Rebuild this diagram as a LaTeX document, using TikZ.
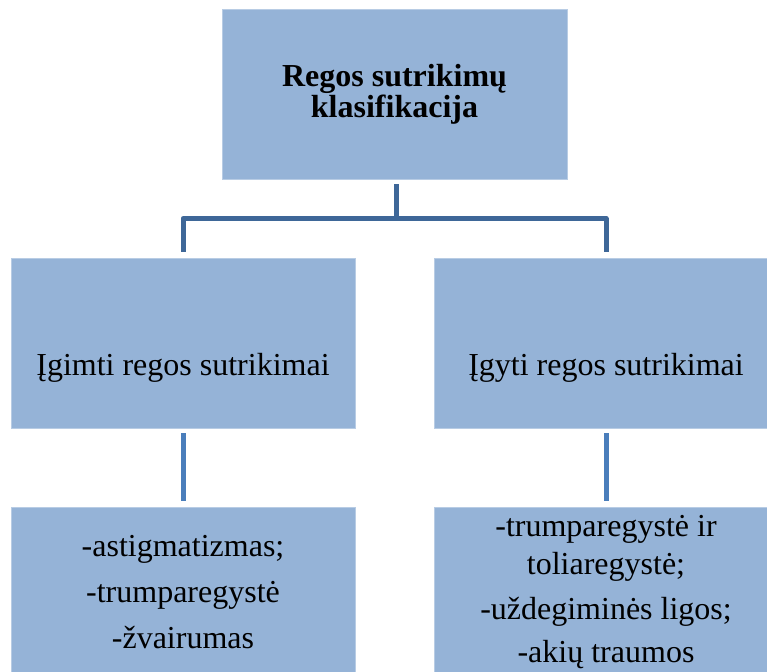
\documentclass[tikz,border=0pt]{standalone}
\usepackage{fontspec}
\setmainfont{Liberation Serif}
\definecolor{boxfill}{RGB}{149,179,215}
\definecolor{boxedge}{RGB}{184,204,228}
\definecolor{darkconn}{RGB}{62,103,152}
\definecolor{lightconn}{RGB}{74,126,187}
\tikzset{
  box/.style={rectangle, fill=boxfill, draw=boxedge, line width=0.8pt,
    minimum width=344pt, minimum height=170pt, inner sep=0pt, align=center,
    font=\fontsize{32pt}{38pt}\selectfont},
  topbox/.style={box, minimum width=345pt,
    font=\fontsize{32pt}{31pt}\selectfont\bfseries},
  midbox/.style={box, text height=64pt, text depth=0pt},
  conn/.style={line width=5pt, line join=round},
}
\begin{document}
\begin{tikzpicture}[x=1pt,y=-1pt]
\useasboundingbox (0,0) rectangle (767,671);
\clip (0,0) rectangle (767,671);
\node[topbox] (top) at (394.5,94) {Regos sutrikimų\\klasifikacija};
\node[midbox] (m1) at (183,343) {Įgimti regos sutrikimai};
\node[midbox] (m2) at (606,343) {Įgyti regos sutrikimai};
\node[box] (b1) at (183,592) {-astigmatizmas;\\[8pt]-trumparegystė\\[8pt]-žvairumas};
\node[box] (b2) at (606,592) {-trumparegystė ir\\toliaregystė;\\[7pt]-uždegiminės ligos;\\[5pt]-akių traumos};
\coordinate (j) at (396,218.5);
\draw[conn, darkconn] ([yshift=-5pt]top.south -| j) -- (j);
\draw[conn, darkconn] ([yshift=6pt]m1.north) -- (m1.north |- j) -- (m2.north |- j) -- ([yshift=6pt]m2.north);
\draw[conn, lightconn] ([yshift=-5pt]m1.south) -- ([yshift=6pt]b1.north);
\draw[conn, lightconn] ([yshift=-5pt]m2.south) -- ([yshift=6pt]b2.north);
\end{tikzpicture}
\end{document}
